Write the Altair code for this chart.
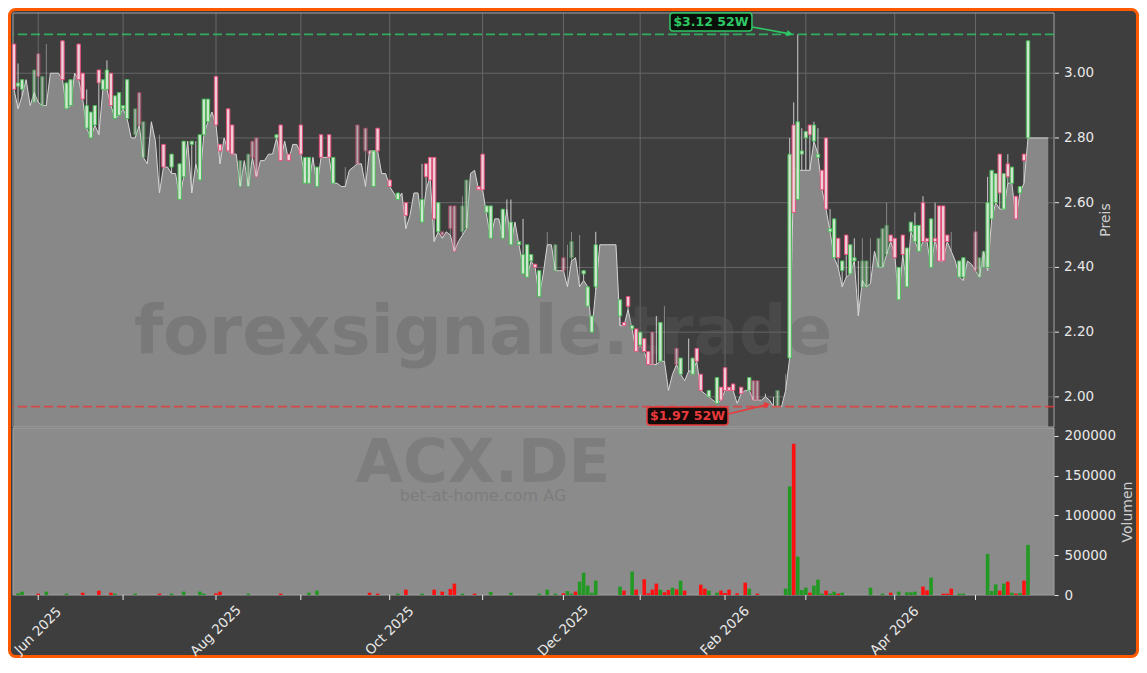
import altair as alt
import pandas as pd

# ---------------- data ----------------
HOLIDAYS = ["2025-12-24", "2025-12-25", "2025-12-26", "2025-12-31",
            "2026-01-01", "2026-04-03", "2026-04-06", "2026-05-01"]
N_DAYS = 257

# lower price line (filled area), one value per trading day
LINE = [
    2.95, 2.89, 2.93, 2.98, 2.90, 2.94, 2.91, 2.90, 2.90, 3.00,
    3.00, 3.00, 2.98, 2.89, 2.90, 3.00, 2.98, 2.92, 2.83, 2.80,
    2.84, 2.81, 2.95, 2.95, 2.90, 2.86, 2.87, 2.89, 2.86, 2.80,
    2.80, 2.84, 2.74, 2.72, 2.85, 2.79, 2.63, 2.71, 2.71, 2.69,
    2.69, 2.61, 2.68, 2.79, 2.63, 2.72, 2.67, 2.81, 2.85, 2.88,
    2.84, 2.72, 2.80, 2.76, 2.75, 2.75, 2.65, 2.73, 2.65, 2.74,
    2.68, 2.73, 2.73, 2.75, 2.75, 2.80, 2.73, 2.79, 2.73, 2.78,
    2.78, 2.75, 2.68, 2.66, 2.74, 2.65, 2.74, 2.74, 2.74, 2.66,
    2.66, 2.65, 2.65, 2.70, 2.71, 2.72, 2.72, 2.65, 2.76, 2.76,
    2.76, 2.69, 2.69, 2.65, 2.63, 2.61, 2.63, 2.52, 2.56, 2.63,
    2.63, 2.54, 2.64, 2.68, 2.48, 2.51, 2.49, 2.51, 2.50, 2.45,
    2.48, 2.50, 2.52, 2.69, 2.70, 2.64, 2.64, 2.56, 2.49, 2.55,
    2.55, 2.49, 2.58, 2.47, 2.54, 2.47, 2.40, 2.37, 2.42, 2.40,
    2.31, 2.38, 2.47, 2.47, 2.39, 2.39, 2.39, 2.34, 2.42, 2.43,
    2.34, 2.36, 2.34, 2.20, 2.33, 2.47, 2.47, 2.47, 2.47, 2.47,
    2.22, 2.22, 2.27, 2.21, 2.14, 2.16, 2.14, 2.10, 2.10, 2.10,
    2.11, 2.11, 2.02, 2.07, 2.10, 2.07, 2.05, 2.08, 2.08, 2.11,
    2.02, 2.01, 2.00, 1.99, 1.98, 1.99, 2.02, 2.02, 2.02, 1.98,
    2.01, 2.02, 2.02, 1.99, 1.99, 1.99, 2.00, 1.99, 1.97, 1.97,
    1.97, 2.02, 2.12, 2.71, 2.70, 2.70, 2.70, 2.70, 2.79, 2.75,
    2.64, 2.58, 2.51, 2.43, 2.40, 2.34, 2.37, 2.38, 2.42, 2.25,
    2.36, 2.34, 2.35, 2.45, 2.40, 2.40, 2.44, 2.48, 2.44, 2.30,
    2.44, 2.34, 2.51, 2.48, 2.45, 2.48, 2.48, 2.40, 2.49, 2.42,
    2.42, 2.48, 2.45, 2.42, 2.37, 2.36, 2.42, 2.41, 2.39, 2.37,
    2.45, 2.39, 2.55, 2.60, 2.58, 2.58, 2.66, 2.66, 2.55, 2.63,
    2.66, 2.80, 2.80, 2.80, 2.80, 2.80, 2.80,
]

# candle bodies: (day index, open, close)
CANDLES = [
    (0, 3.09, 2.95), (1, 2.96, 2.97), (2, 2.95, 2.98), (5, 2.91, 3.01), (6, 3.06, 2.99), (7, 2.90, 2.99),
    (12, 3.10, 2.98), (13, 2.89, 2.97), (14, 2.90, 2.98), (16, 3.09, 2.98), (17, 3.00, 2.92), (18, 2.83, 2.90),
    (19, 2.80, 2.88), (20, 2.84, 2.90), (21, 3.01, 2.97), (22, 2.95, 2.98), (23, 2.95, 3.01), (24, 3.00, 2.90),
    (25, 2.86, 2.93), (26, 2.87, 2.94), (27, 2.89, 2.90), (28, 2.86, 2.98), (30, 2.81, 2.89), (31, 2.94, 2.84),
    (32, 2.74, 2.85), (37, 2.78, 2.71), (39, 2.71, 2.75), (41, 2.61, 2.72), (42, 2.68, 2.79), (44, 2.78, 2.79),
    (46, 2.67, 2.81), (47, 2.81, 2.92), (48, 2.85, 2.92), (50, 2.99, 2.84), (51, 2.78, 2.76), (53, 2.89, 2.76),
    (54, 2.84, 2.75), (56, 2.65, 2.73), (58, 2.65, 2.75), (59, 2.79, 2.74), (60, 2.80, 2.68), (65, 2.80, 2.81),
    (66, 2.84, 2.73), (68, 2.75, 2.73), (71, 2.84, 2.75), (72, 2.66, 2.74), (73, 2.66, 2.74), (75, 2.65, 2.71),
    (76, 2.81, 2.74), (78, 2.81, 2.74), (79, 2.66, 2.74), (85, 2.84, 2.72), (87, 2.83, 2.76), (88, 2.76, 2.75),
    (89, 2.65, 2.76), (90, 2.83, 2.76), (93, 2.67, 2.65), (95, 2.61, 2.63), (97, 2.60, 2.56), (101, 2.54, 2.61),
    (102, 2.72, 2.68), (103, 2.74, 2.67), (104, 2.74, 2.55), (105, 2.51, 2.60), (106, 2.51, 2.50), (108, 2.59, 2.52),
    (109, 2.59, 2.45), (111, 2.51, 2.59), (112, 2.52, 2.67), (115, 2.65, 2.64), (116, 2.75, 2.64), (117, 2.57, 2.59),
    (118, 2.49, 2.59), (121, 2.49, 2.58), (123, 2.47, 2.54), (125, 2.47, 2.48), (126, 2.38, 2.44), (127, 2.37, 2.47),
    (128, 2.42, 2.44), (129, 2.41, 2.40), (130, 2.31, 2.39), (134, 2.39, 2.47), (136, 2.43, 2.39), (138, 2.43, 2.48),
    (141, 2.38, 2.39), (142, 2.28, 2.34), (143, 2.20, 2.25), (144, 2.34, 2.47), (150, 2.25, 2.30), (151, 2.23, 2.22),
    (152, 2.31, 2.28), (153, 2.21, 2.22), (154, 2.21, 2.14), (155, 2.16, 2.20), (156, 2.18, 2.14), (157, 2.14, 2.10),
    (158, 2.20, 2.10), (160, 2.11, 2.23), (164, 2.15, 2.10), (165, 2.07, 2.12), (168, 2.07, 2.12), (169, 2.15, 2.11),
    (170, 2.07, 2.02), (172, 2.00, 2.02), (174, 1.98, 2.06), (175, 2.03, 1.99), (176, 2.09, 2.02), (177, 2.03, 2.02),
    (178, 2.04, 2.02), (180, 2.03, 2.01), (182, 2.02, 2.06), (183, 2.05, 1.99), (184, 2.05, 1.99), (189, 1.97, 2.02),
    (192, 2.12, 2.75), (193, 2.84, 2.57), (194, 2.61, 2.85), (195, 2.75, 2.76), (196, 2.80, 2.82), (197, 2.84, 2.81),
    (198, 2.79, 2.84), (199, 2.74, 2.75), (200, 2.70, 2.64), (201, 2.80, 2.58), (202, 2.51, 2.52), (203, 2.43, 2.55),
    (204, 2.49, 2.43), (205, 2.39, 2.42), (206, 2.50, 2.44), (207, 2.38, 2.47), (208, 2.42, 2.43), (210, 2.34, 2.42),
    (211, 2.34, 2.42), (214, 2.40, 2.49), (215, 2.40, 2.52), (216, 2.44, 2.53), (217, 2.50, 2.48), (218, 2.49, 2.43),
    (219, 2.30, 2.40), (220, 2.50, 2.44), (221, 2.34, 2.46), (222, 2.51, 2.54), (223, 2.48, 2.53), (224, 2.45, 2.53),
    (225, 2.60, 2.48), (226, 2.49, 2.48), (227, 2.40, 2.55), (228, 2.49, 2.48), (229, 2.59, 2.42), (230, 2.59, 2.42),
    (231, 2.50, 2.48), (234, 2.37, 2.42), (235, 2.37, 2.43), (238, 2.51, 2.39), (239, 2.37, 2.43), (240, 2.40, 2.45),
    (241, 2.40, 2.60), (242, 2.55, 2.70), (243, 2.60, 2.69), (244, 2.75, 2.63), (245, 2.58, 2.69), (246, 2.72, 2.68),
    (247, 2.66, 2.71), (248, 2.62, 2.55), (249, 2.63, 2.65), (250, 2.75, 2.73), (251, 2.80, 3.10),
]

# visible upper wicks: (day index, high)
HIGHS = [
    (1, 3.03), (8, 3.09), (18, 2.95), (23, 3.04), (36, 2.81), (43, 2.79), (45, 2.79), (82, 2.71),
    (101, 2.72), (111, 2.62), (122, 2.61), (123, 2.61), (126, 2.55), (132, 2.51), (137, 2.47), (138, 2.51),
    (140, 2.50), (144, 2.51), (159, 2.25), (161, 2.28), (167, 2.18), (186, 2.01), (188, 2.00), (191, 2.07),
    (192, 2.80), (193, 2.91), (194, 3.12), (195, 2.83), (198, 2.85), (199, 2.83), (202, 2.58), (208, 2.49),
    (209, 2.42), (210, 2.49), (212, 2.49), (216, 2.60), (223, 2.57), (225, 2.62), (228, 2.60), (232, 2.51),
    (241, 2.68), (246, 2.75),
]

# faint (low activity) candles
PALE = [5, 6, 7, 8, 30, 31, 32, 36, 56, 58, 59, 60, 82, 85, 87, 88, 106, 108, 109, 111, 112, 132, 134,
        136, 137, 138, 140, 158, 161, 164, 183, 184, 189, 191, 210, 211, 212, 214, 215, 216, 232, 238,
        239, 240]

# volume: (day index, shares, direction)
VOLUME = [
    (1, 2100, "up"), (2, 4200, "up"), (6, 1700, "down"), (8, 4200, "up"), (13, 1700, "up"), (17, 2900, "down"),
    (21, 5500, "down"), (24, 2900, "down"), (25, 1700, "up"), (30, 1700, "up"), (36, 1700, "down"),
    (39, 1700, "up"), (42, 4200, "up"), (46, 4200, "up"), (47, 1700, "up"), (50, 2100, "down"),
    (51, 4200, "down"), (58, 1700, "up"), (66, 1700, "down"), (73, 2900, "up"), (75, 5500, "up"),
    (88, 2900, "down"), (90, 1700, "down"), (95, 1700, "up"), (97, 6700, "down"), (101, 1700, "up"),
    (104, 6700, "down"), (106, 4200, "down"), (108, 7600, "down"), (109, 14300, "down"), (111, 1700, "up"),
    (114, 1700, "down"), (118, 3800, "up"), (123, 2900, "up"), (130, 1700, "up"), (132, 6700, "up"),
    (134, 1700, "up"), (136, 2100, "down"), (137, 5000, "up"), (138, 1700, "up"), (139, 4200, "down"),
    (140, 16800, "up"), (141, 28100, "up"), (142, 11800, "up"), (143, 2900, "up"), (144, 18100, "up"),
    (150, 10500, "up"), (151, 5500, "down"), (153, 29400, "up"), (154, 6700, "down"), (156, 19700, "down"),
    (157, 2100, "down"), (158, 6700, "down"), (159, 14300, "down"), (160, 6700, "up"), (161, 3400, "down"),
    (162, 6300, "down"), (163, 9200, "up"), (164, 7100, "down"), (165, 18100, "up"), (166, 5500, "down"),
    (170, 13000, "down"), (171, 8000, "down"), (172, 5500, "up"), (174, 2900, "up"), (175, 5500, "down"),
    (176, 2500, "down"), (177, 6700, "down"), (179, 2100, "down"), (181, 15500, "down"), (182, 8000, "up"),
    (184, 1700, "down"), (191, 8000, "up"), (192, 136500, "up"), (193, 190300, "down"), (194, 48300, "up"),
    (195, 6300, "up"), (196, 9200, "up"), (197, 2900, "down"), (198, 11800, "up"), (199, 19300, "up"),
    (200, 1700, "up"), (201, 5500, "down"), (202, 1700, "up"), (203, 4200, "up"), (204, 1700, "down"),
    (205, 2900, "up"), (212, 9200, "up"), (215, 1700, "up"), (217, 2900, "down"), (219, 4200, "up"),
    (221, 3400, "up"), (222, 3400, "up"), (223, 4200, "up"), (225, 10500, "down"), (226, 5900, "down"),
    (227, 21800, "up"), (230, 1700, "down"), (231, 1700, "down"), (232, 8000, "down"), (234, 1700, "up"),
    (235, 1700, "up"), (241, 51700, "up"), (242, 5000, "up"), (243, 13400, "up"), (244, 5500, "down"),
    (245, 14300, "up"), (246, 16800, "down"), (247, 2900, "up"), (248, 1700, "down"), (249, 2500, "up"),
    (250, 18100, "down"), (251, 63000, "up"),
]

PRICE_TICKS = [2.0, 2.2, 2.4, 2.6, 2.8, 3.0]
VOL_TICKS = [0, 50000, 100000, 150000, 200000]
TICKER = "ACX.DE"
COMPANY = "bet-at-home.com AG"
WATERMARK = "forexsignale.trade"

# ---------------- layout / style constants ----------------
W, H = 1041, 582          # plot area: price panel + volume panel
PH = 414                  # price panel height
VT = 415                  # volume panel top
P_DOM = [1.907, 3.186]
V_DOM = [0, 210000]
X_DOM = [-0.25, 257.43]

FRAME_BG = "#3e3e3e"
ORANGE = "#ff5a00"
AREA = "#888888"
AREA_LINE = "#d6d6d6"
GRID = "#676767"
VOL_BG = "#8b8b8b"
BORDER = "#a3a3a3"
TXT = "#e8e8e8"
UP_FILL, UP_EDGE = "#d2ead2", "#48c058"
DN_FILL, DN_EDGE = "#f3d3dc", "#ec4f7c"
VOL_UP, VOL_DN = "#229922", "#ff1111"
HI_COL, LO_COL = "#2ec866", "#e83a3a"
FS = 13.5

# ---------------- tables ----------------
days = [d for d in pd.bdate_range("2025-05-23", "2026-07-31")
        if d.strftime("%Y-%m-%d") not in HOLIDAYS][:N_DAYS]
line_df = pd.DataFrame({"i": list(range(N_DAYS)), "line": LINE})

cd = {i: (o, c) for i, o, c in CANDLES}
hi_map = dict(HIGHS)
c_df = pd.DataFrame(CANDLES, columns=["i", "o", "c"])
c_df["dir"] = ["up" if c >= o else "down" for o, c in zip(c_df.o, c_df.c)]
c_df["pale"] = ["y" if i in PALE else "n" for i in c_df.i]

wick_rows = []
for i in sorted(set(cd) | set(hi_map)):
    o, c = cd.get(i, (LINE[i], LINE[i]))
    lo = min(o, c, LINE[i])
    hi = max(o, c, hi_map.get(i, max(o, c)))
    if hi - lo > 0.004:
        wick_rows.append({"i": i, "lo": lo, "hi": hi, "pale": "y" if i in PALE else "n"})
w_df = pd.DataFrame(wick_rows)

v_df = pd.DataFrame(VOLUME, columns=["i", "v", "dir"])

month_i = [k for k in range(1, N_DAYS) if days[k].month != days[k - 1].month]
month_df = pd.DataFrame({"i": month_i})
lbl_df = pd.DataFrame({"i": [k for k in month_i if days[k].month % 2 == 0],
                       "t": [days[k].strftime("%b %Y") for k in month_i if days[k].month % 2 == 0]})
ptick_df = pd.DataFrame({"p": PRICE_TICKS, "t": [f"{p:.2f}" for p in PRICE_TICKS]})

hi_i = max(HIGHS, key=lambda t: t[1])[0]
hi_v = max(h for _, h in HIGHS)
lo_v = min(LINE)
lo_i = LINE.index(lo_v)
hi_df = pd.DataFrame({"i": [hi_i], "p": [hi_v], "t": [f"${hi_v:.2f} 52W"]})
lo_df = pd.DataFrame({"i": [lo_i], "p": [lo_v], "t": [f"${lo_v:.2f} 52W"]})
one = pd.DataFrame({"a": [0]})

# ---------------- scales / axes ----------------
xscale = alt.Scale(domain=X_DOM, nice=False, zero=False, padding=0)
pscale = alt.Scale(domain=P_DOM, range=[PH, 0], nice=False, zero=False)
vscale = alt.Scale(domain=V_DOM, range=[H, VT], nice=False, zero=False)

v_axis = alt.Axis(orient="right", values=VOL_TICKS, format="d", labelColor=TXT, labelFontSize=FS,
                  tickColor=TXT, tickSize=4, labelPadding=6, domain=False, grid=False, labelFlush=False,
                  title="Volumen", titleColor="#cfcfcf", titleFontSize=14, titleFontWeight="normal",
                  titleAngle=270, titleBaseline="top", titlePadding=5, zindex=1)


def XI():
    return alt.X("i:Q", scale=xscale, axis=None)


def YP(field):
    return alt.Y(field, type="quantitative", scale=pscale, axis=None)


# ---------------- price panel ----------------
frame = alt.Chart(one).mark_rect(fill=FRAME_BG, stroke=ORANGE, strokeWidth=3, cornerRadius=6).encode(
    x=alt.value(-3.5), x2=alt.value(W + 83.5), y=alt.value(-3.5), y2=alt.value(643.5))

vgrid = alt.Chart(month_df).mark_rule(color=GRID, strokeWidth=1).encode(
    x=XI(), y=alt.value(0), y2=alt.value(PH))

hgrid = alt.Chart(ptick_df).mark_rule(color=GRID, strokeWidth=1).encode(y=YP("p"))

area = alt.Chart(line_df).mark_area(
    color=AREA, opacity=1, line={"color": AREA_LINE, "strokeWidth": 1}).encode(
    x=XI(), y=YP("line"), y2=alt.Y2Datum(P_DOM[0]))

pborder = alt.Chart(one).mark_rect(fillOpacity=0, stroke=BORDER, strokeWidth=1).encode(
    x=alt.value(0), x2=alt.value(W), y=alt.value(0), y2=alt.value(PH))

wm = alt.Chart(one).mark_text(text=WATERMARK, font="DejaVu Sans", fontWeight="bold", fontSize=67,
                              color="#5e5e5e", opacity=0.35, align="center", baseline="alphabetic").encode(
    x=alt.value(470), y=alt.value(341))

wicks = alt.Chart(w_df).mark_rule(color="#d2d2d2", strokeWidth=1).encode(
    x=XI(), y=YP("lo"), y2="hi",
    opacity=alt.Opacity("pale:N", scale=alt.Scale(domain=["n", "y"], range=[0.95, 0.5]), legend=None))

bodies = alt.Chart(c_df).mark_bar(size=3.4, strokeWidth=1).encode(
    x=XI(), y=YP("o"), y2="c",
    fill=alt.Fill("dir:N", scale=alt.Scale(domain=["up", "down"], range=[UP_FILL, DN_FILL]), legend=None),
    stroke=alt.Stroke("dir:N", scale=alt.Scale(domain=["up", "down"], range=[UP_EDGE, DN_EDGE]), legend=None),
    opacity=alt.Opacity("pale:N", scale=alt.Scale(domain=["n", "y"], range=[1.0, 0.55]), legend=None))

hi_line = alt.Chart(hi_df).mark_rule(color=HI_COL, strokeDash=[9, 4], strokeWidth=1.8, opacity=0.8).encode(
    y=YP("p"))
lo_line = alt.Chart(lo_df).mark_rule(color=LO_COL, strokeDash=[9, 4], strokeWidth=1.8, opacity=0.8).encode(
    y=YP("p"))

# price axis (right side), drawn as marks
p_ticks = alt.Chart(ptick_df).mark_rule(color=TXT, strokeWidth=1).encode(
    y=YP("p"), x=alt.value(W + 1), x2=alt.value(W + 5))
p_labels = alt.Chart(ptick_df).mark_text(color=TXT, fontSize=FS, align="left", baseline="middle").encode(
    y=YP("p"), x=alt.value(W + 10), text="t:N")
p_title = alt.Chart(one).mark_text(text="Preis", color="#cfcfcf", fontSize=14, angle=270,
                                   align="center", baseline="middle").encode(
    x=alt.value(W + 52), y=alt.value(PH / 2))


def annotation(df, col, fill, box, text_off, arrow, head, head_angle):
    base = alt.Chart(df)
    rect = base.mark_rect(fill=fill, stroke=col, strokeWidth=1.5, cornerRadius=3,
                          xOffset=box[0], x2Offset=box[1], yOffset=box[2], y2Offset=box[3]).encode(
        x=XI(), x2="i", y=YP("p"), y2="p")
    txt = base.mark_text(color=col, fontWeight="bold", fontSize=12.5, font="DejaVu Sans",
                         align="center", baseline="middle", dx=text_off[0], dy=text_off[1]).encode(
        x=XI(), y=YP("p"), text="t:N")
    arr = base.mark_rule(color=col, strokeWidth=1.6, xOffset=arrow[0], x2Offset=arrow[1],
                         yOffset=arrow[2], y2Offset=arrow[3]).encode(x=XI(), x2="i", y=YP("p"), y2="p")
    tip = base.mark_point(shape="triangle-right", filled=True, size=45, color=col, opacity=1,
                          angle=head_angle, xOffset=head[0], yOffset=head[1]).encode(x=XI(), y=YP("p"))
    return [rect, arr, tip, txt]


hi_ann = annotation(hi_df, HI_COL, "#0a0f0a", (-127.8, -45.8, -21.4, -3.4), (-86.8, -12.4),
                    (-45.8, -8, -7.4, -0.5), (-8, -0.6), 10)
lo_ann = annotation(lo_df, LO_COL, "#140a0a", (-126.5, -45.5, 0.4, 18.4), (-86, 9.4),
                    (-45.5, -6.5, 7.4, -1.9), (-6.4, -1.9), 347)

price = alt.layer(frame, vgrid, hgrid, area, wm, pborder, wicks, bodies, hi_line, lo_line,
                  p_ticks, p_labels, p_title, *hi_ann, *lo_ann)

# ---------------- volume panel ----------------
vbg = alt.Chart(one).mark_rect(fill=VOL_BG, stroke=BORDER, strokeWidth=1).encode(
    x=alt.value(0), x2=alt.value(W), y=alt.value(VT), y2=alt.value(H))

tick_txt = alt.Chart(one).mark_text(text=TICKER, font="DejaVu Sans", fontWeight="bold", fontSize=61,
                                    color="#5e5e5e", opacity=0.3, align="center", baseline="alphabetic").encode(
    x=alt.value(470), y=alt.value(469))
comp_txt = alt.Chart(one).mark_text(text=COMPANY, font="DejaVu Sans", fontSize=16,
                                    color="#5e5e5e", opacity=0.3, align="center", baseline="alphabetic").encode(
    x=alt.value(470), y=alt.value(488))

vbars = alt.Chart(v_df).mark_bar(size=3.6).encode(
    x=XI(),
    y=alt.Y("v:Q", scale=vscale, axis=v_axis),
    color=alt.Color("dir:N", scale=alt.Scale(domain=["up", "down"], range=[VOL_UP, VOL_DN]), legend=None))

# time axis (bottom), drawn as marks
x_ticks = alt.Chart(month_df).mark_rule(color=TXT, strokeWidth=1).encode(
    x=XI(), y=alt.value(H), y2=alt.value(H + 5))
x_labels = alt.Chart(lbl_df).mark_text(color=TXT, fontSize=FS, angle=315, align="center",
                                       baseline="middle").encode(
    x=XI(), y=alt.value(H + 36), text="t:N")

volume = alt.layer(vbg, tick_txt, comp_txt, vbars, x_ticks, x_labels)

chart = (
    alt.layer(price, volume)
    .resolve_scale(y="independent")
    .properties(width=W, height=H, padding=0, background="white")
    .configure(font="DejaVu Sans")
    .configure_view(stroke="transparent")
)

chart.save("out.html", embed_options={"renderer": "svg", "actions": False})
